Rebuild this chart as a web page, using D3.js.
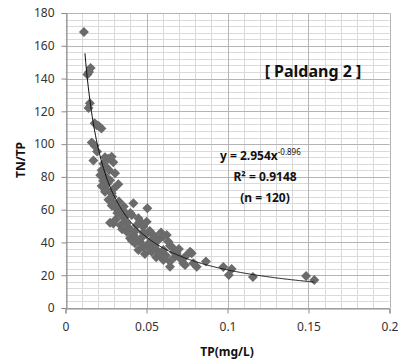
<!DOCTYPE html>
<html>
<head>
<meta charset="utf-8">
<script src="https://cdn.jsdelivr.net/npm/d3@7"></script>
<style>
  html, body { margin: 0; padding: 0; background: #fff; }
  svg { display: block; font-family: "Noto Sans", "Open Sans", sans-serif; }
</style>
</head>
<body>
<svg id="chart" width="398" height="359"></svg>
<script>
// TP (mg/L) of each sample
const tp = [
  0.0114, 0.0135, 0.0155, 0.0145, 0.0150, 0.0142, 0.0180, 0.0205, 0.0222, 0.0193,
  0.0162, 0.0180, 0.0195, 0.0172, 0.0244, 0.0264, 0.0285, 0.0295, 0.0233, 0.0223,
  0.0244, 0.0306, 0.0233, 0.0275, 0.0326, 0.0223, 0.0254, 0.0244, 0.0285, 0.0265,
  0.0295, 0.0285, 0.0310, 0.0275, 0.0295, 0.0320, 0.0340, 0.0330, 0.0350, 0.0360,
  0.0367, 0.0378, 0.0409, 0.0419, 0.0400, 0.0450, 0.0460, 0.0480, 0.0501, 0.0505,
  0.0378, 0.0419, 0.0398, 0.0430, 0.0390, 0.0440, 0.0460, 0.0429, 0.0480, 0.0450,
  0.0470, 0.0500, 0.0520, 0.0542, 0.0573, 0.0563, 0.0532, 0.0510, 0.0550, 0.0604,
  0.0625, 0.0635, 0.0590, 0.0604, 0.0656, 0.0645, 0.0604, 0.0604, 0.0645, 0.0645,
  0.0676, 0.0686, 0.0700, 0.0727, 0.0738, 0.0769, 0.0779, 0.0789, 0.0810, 0.0867,
  0.0974, 0.1026, 0.1008, 0.1157, 0.1485, 0.1536, 0.0560, 0.0580, 0.0520, 0.0490,
  0.0350, 0.0340, 0.0310, 0.0360, 0.0380, 0.0270, 0.0250, 0.0215, 0.0260, 0.0290,
  0.0300, 0.0440, 0.0410, 0.0530, 0.0670, 0.0620, 0.0710, 0.0480, 0.0560, 0.0740
];
// TN/TP ratio of each sample
const tnTp = [
  168.4, 142.5, 146.5, 144.0, 125.0, 122.0, 112.7, 111.0, 109.6, 111.5,
  101.0,  99.0,  95.5,  90.0,  92.0,  91.0,  92.3,  89.0,  88.0,  84.0,
   80.5,  82.2,  77.5,  78.0,  75.5,  74.5,  72.0,  71.0,  70.0,  66.0,
   64.0,  62.5,  61.0,  52.0,  51.5,  58.0,  57.0,  65.0,  60.0,  55.0,
   52.7,  51.7,  56.7,  63.9,  58.0,  54.7,  53.0,  49.6,  52.7,  60.8,
   46.6,  44.5,  42.5,  47.0,  49.0,  50.5,  40.5,  39.5,  37.4,  35.4,
   43.0,  45.0,  47.0,  44.5,  41.5,  35.4,  34.3,  39.0,  38.0,  43.5,
   44.5,  40.5,  46.0,  35.4,  37.4,  38.0,  30.3,  29.3,  28.3,  25.2,
   31.3,  33.4,  36.0,  27.3,  26.2,  34.3,  33.4,  27.3,  25.2,  28.3,
   25.0,  23.8,  20.1,  18.9,  19.5,  17.1,  31.0,  33.0,  36.0,  33.0,
   48.0,  50.5,  54.0,  62.0,  57.0,  84.0,  86.0,  81.0,  76.0,  68.0,
   73.0,  42.0,  41.0,  41.5,  34.0,  32.0,  30.0,  46.0,  43.0,  31.5
];
// Power-law fit  y = a * x^b
const fitA = 2.954;
const fitB = -0.896;
const fitRange = [0.012, 0.1536];

const xTicks = [0, 0.05, 0.1, 0.15, 0.2];
const yTicks = [0, 20, 40, 60, 80, 100, 120, 140, 160, 180];
const xMinorStep = 0.01;
const yMinorStep = 4;

const svg = d3.select("#chart");
const plotL = 65.5, plotR = 389.5, plotT = 13, plotB = 308;

const x = d3.scaleLinear().domain([0, 0.2]).range([plotL, plotR]);
const y = d3.scaleLinear().domain([0, 180]).range([plotB, plotT]);

// minor grid
const xMinor = d3.range(0, 0.2 + 1e-9, xMinorStep);
const yMinor = d3.range(0, 180 + 1e-9, yMinorStep);
const grid = svg.append("g");
grid.selectAll(".xm").data(xMinor).enter().append("line")
  .attr("x1", d => Math.round(x(d)) + 0.5).attr("x2", d => Math.round(x(d)) + 0.5)
  .attr("y1", plotT).attr("y2", plotB)
  .attr("stroke", "#dadada").attr("stroke-width", 1);
grid.selectAll(".ym").data(yMinor).enter().append("line")
  .attr("y1", d => Math.round(y(d)) + 0.5).attr("y2", d => Math.round(y(d)) + 0.5)
  .attr("x1", plotL).attr("x2", plotR)
  .attr("stroke", "#dadada").attr("stroke-width", 1);
// major grid
grid.selectAll(".xM").data(xTicks).enter().append("line")
  .attr("x1", d => Math.round(x(d)) + 0.5).attr("x2", d => Math.round(x(d)) + 0.5)
  .attr("y1", plotT).attr("y2", plotB)
  .attr("stroke", "#b4b4b4").attr("stroke-width", 1);
grid.selectAll(".yM").data(yTicks).enter().append("line")
  .attr("y1", d => Math.round(y(d)) + 0.5).attr("y2", d => Math.round(y(d)) + 0.5)
  .attr("x1", plotL).attr("x2", plotR)
  .attr("stroke", "#b4b4b4").attr("stroke-width", 1);

// axes
const axisColor = "#8c8c8c";
const xAxis = svg.append("g")
  .attr("transform", `translate(0,${Math.round(plotB) + 0.5})`)
  .call(d3.axisBottom(x).tickValues(xTicks).tickFormat(d => d3.format("")(d)).tickSize(5).tickPadding(9));
const yAxis = svg.append("g")
  .attr("transform", `translate(${Math.round(plotL) + 0.5},0)`)
  .call(d3.axisLeft(y).tickValues(yTicks).tickSize(5).tickPadding(7));
[xAxis, yAxis].forEach(g => {
  g.select(".domain").attr("stroke", axisColor);
  g.selectAll(".tick line").attr("stroke", axisColor);
  g.selectAll(".tick text").attr("fill", "#333").attr("font-size", 12)
    .attr("font-family", "\"Noto Sans\", sans-serif");
});

// points
const diamond = "M0,-5L5,0L0,5L-5,0Z";
svg.append("g").selectAll("path").data(tp.map((v, i) => [v, tnTp[i]])).enter()
  .append("path")
  .attr("d", diamond)
  .attr("transform", d => `translate(${x(d[0])},${y(d[1])})`)
  .attr("fill", "#6b6b6b");

// fitted curve
const fitX = d3.range(fitRange[0], fitRange[1], 0.0005).concat([fitRange[1]]);
svg.append("path")
  .datum(fitX)
  .attr("fill", "none").attr("stroke", "#111").attr("stroke-width", 1)
  .attr("d", d3.line().x(d => x(d)).y(d => y(fitA * Math.pow(d, fitB))));

// labels
svg.append("text").attr("x", 313).attr("y", 77).attr("text-anchor", "middle")
  .attr("font-size", 16).attr("font-weight", "bold").attr("fill", "#111")
  .text("[ Paldang 2 ]");

const eq = svg.append("text").attr("x", 220).attr("y", 160)
  .attr("font-size", 12).attr("font-weight", "bold").attr("fill", "#111");
eq.append("tspan").text("y = 2.954x");
eq.append("tspan").attr("dy", -5).attr("font-size", 8).attr("font-weight", "normal").text("-0.896");

svg.append("text").attr("x", 265).attr("y", 181).attr("text-anchor", "middle")
  .attr("font-size", 12).attr("font-weight", "bold").attr("fill", "#111")
  .text("R² = 0.9148");
svg.append("text").attr("x", 265).attr("y", 202).attr("text-anchor", "middle")
  .attr("font-size", 12).attr("font-weight", "bold").attr("fill", "#111")
  .text("(n = 120)");

svg.append("text").attr("x", 227).attr("y", 356).attr("text-anchor", "middle")
  .attr("font-size", 12).attr("font-weight", "bold").attr("fill", "#111")
  .text("TP(mg/L)");
svg.append("text")
  .attr("transform", "translate(25,160) rotate(-90)")
  .attr("text-anchor", "middle")
  .attr("font-size", 12).attr("font-weight", "bold").attr("fill", "#111")
  .text("TN/TP");
</script>
</body>
</html>
